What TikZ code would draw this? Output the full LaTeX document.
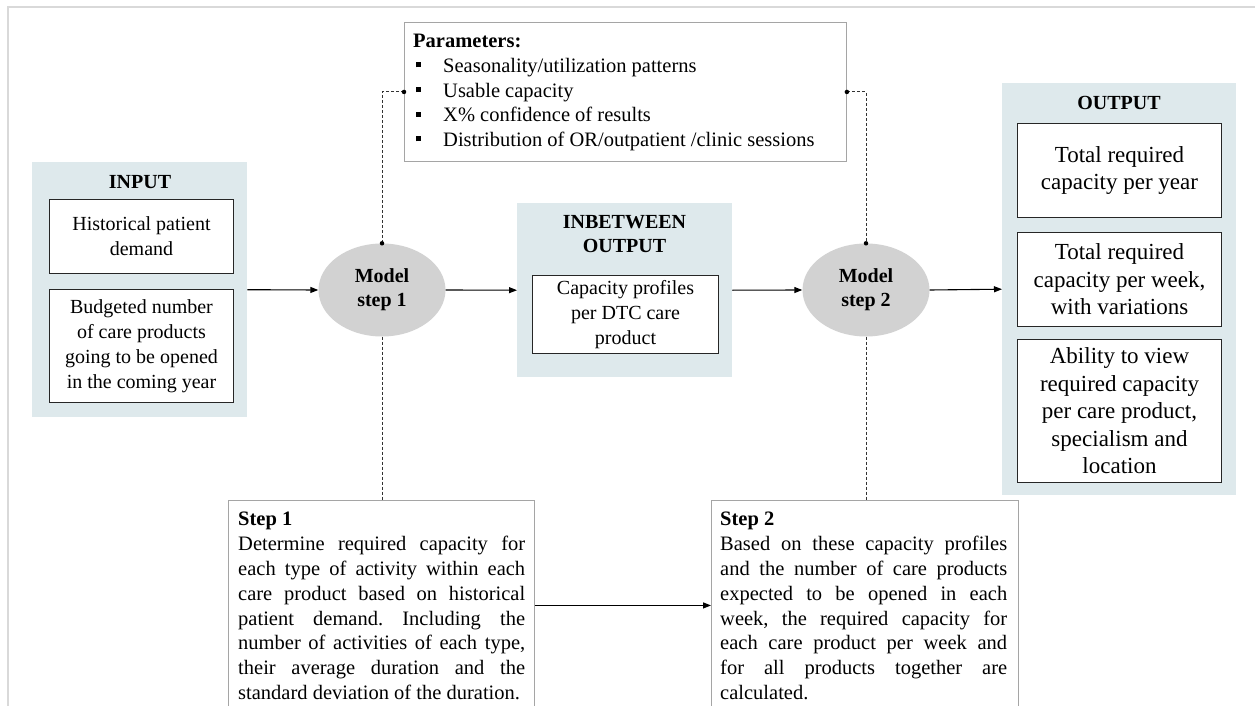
\documentclass[tikz,border=0pt]{standalone}
\usepackage{fontspec}
\setmainfont{Liberation Serif}
\usetikzlibrary{arrows.meta,shapes.geometric}

\definecolor{panelfill}{RGB}{222,233,236}
\definecolor{ovalfill}{RGB}{210,210,210}
\definecolor{framegrey}{RGB}{217,217,217}
\definecolor{boxgrey}{RGB}{165,165,165}
\definecolor{dashgrey}{RGB}{50,50,50}

% bullet square of the parameter list, with the gap up to the item text
\newcommand{\parbul}{\makebox[30pt][l]{\hspace{3pt}\rule[5pt]{5pt}{5pt}}}
% fixed height of the first line, so that its baseline is known
\newcommand{\firststrut}{\rule{0pt}{16pt}}
% one fully justified line of the step descriptions
\newcommand{\jline}[1]{\makebox[287pt][s]{#1}}

\frenchspacing
\begin{document}
\begin{tikzpicture}[x=1pt,y=-1pt,
  panel/.style={fill=panelfill, draw=none, inner sep=0pt, anchor=north west},
  whitebox/.style={draw=black!85, line width=1pt, fill=white, inner sep=0pt,
    align=center, anchor=north west, font=\fontsize{20}{25}\selectfont},
  outbox/.style={whitebox, font=\fontsize{23}{27.5}\selectfont},
  greybox/.style={draw=boxgrey, line width=0.9pt, fill=white, inner sep=0pt, anchor=north west},
  oval/.style={ellipse, fill=ovalfill, draw=none, minimum width=127pt, minimum height=93pt,
    inner sep=0pt, align=center, font=\bfseries\fontsize{20}{24}\selectfont},
  headline/.style={font=\bfseries\fontsize{20}{24}\selectfont, anchor=base, inner sep=0pt},
  bodytext/.style={anchor=north west, align=left, inner sep=0pt, font=\fontsize{20.5}{24.8}\selectfont},
  flow/.style={-{Triangle[length=8pt,width=6pt]}, line width=1.1pt, black},
  link/.style={dashgrey, line width=0.9pt, dash pattern=on 3pt off 2pt},
  joint/.style={circle, fill=black, inner sep=0pt, minimum size=4.5pt}
]
\useasboundingbox (0,0) rectangle (1255,706);
\clip (0,0) rectangle (1255,706);

% outer frame
\draw[framegrey, line width=1.8pt] (8,7) rectangle (1275,730);

% ---------- input ----------
\node[panel, minimum width=215pt, minimum height=255pt] (inpanel) at (32,162) {};
\node[headline] (intitle) at (140,188) {INPUT};
\node[whitebox, minimum width=184pt, minimum height=74pt] (hist) at (49,199)
  {Historical patient\\demand};
\node[whitebox, minimum width=184pt, minimum height=113pt] (budget) at (49,289)
  {Budgeted number\\of care products\\going to be opened\\in the coming year};

% ---------- in-between output ----------
\node[panel, minimum width=215pt, minimum height=174pt] (midpanel) at (517,203) {};
\node[headline, anchor=north, align=center] (midtitle) at (624.5,212)
  {\firststrut INBETWEEN\\OUTPUT};
\node[whitebox, minimum width=186pt, minimum height=78pt] (profiles) at (532,275)
  {Capacity profiles\\per DTC care\\product};

% ---------- output ----------
\node[panel, minimum width=234pt, minimum height=412pt] (outpanel) at (1002,83) {};
\node[headline] (outtitle) at (1119,110) {OUTPUT};
\node[outbox, minimum width=204pt, minimum height=94pt] (peryear) at (1017,123)
  {Total required\\capacity per year};
\node[outbox, minimum width=204pt, minimum height=94pt] (perweek) at (1017,232)
  {Total required\\capacity per week,\\with variations};
\node[outbox, minimum width=204pt, minimum height=143pt] (viewcap) at (1017,339)
  {Ability to view\\required capacity\\per care product,\\specialism and\\location};

% ---------- model steps ----------
\node[oval] (m1) at (382,290) {Model\\step 1};
\node[oval] (m2) at (866,290) {Model\\step 2};

% ---------- parameters ----------
\node[greybox, minimum width=442pt, minimum height=139pt] (params) at (404,22) {};
\node[bodytext, font=\fontsize{20.5}{24.6}\selectfont] (paramtext) at (413,31.7)
  {\firststrut\textbf{Parameters:}\\
   \parbul Seasonality/utilization patterns\\
   \parbul Usable capacity\\
   \parbul X\% confidence of results\\
   \parbul Distribution of OR/outpatient /clinic sessions};

% ---------- step descriptions ----------
\node[greybox, minimum width=306pt, minimum height=210pt] (s1box) at (228,500) {};
\node[bodytext] (s1text) at (238,509.7)
  {\firststrut\textbf{Step 1}\\
   \jline{Determine required capacity for}\\
   \jline{each type of activity within each}\\
   \jline{care product based on historical}\\
   \jline{patient demand. Including the}\\
   \jline{number of activities of each type,}\\
   \jline{their average duration and the}\\
   standard deviation of the duration.};

\node[greybox, minimum width=307pt, minimum height=210pt] (s2box) at (711,500) {};
\node[bodytext] (s2text) at (720,509.7)
  {\firststrut\textbf{Step 2}\\
   \jline{Based on these capacity profiles}\\
   \jline{and the number of care products}\\
   \jline{expected to be opened in each}\\
   \jline{week, the required capacity for}\\
   \jline{each care product per week and}\\
   \jline{for all products together are}\\
   calculated.};

% ---------- main flow ----------
\draw[flow] (inpanel.east) -- (m1.west);
\draw[flow] (m1.east) -- (midpanel.west);
\draw[flow] (midpanel.east) -- (m2.west);
\draw[flow] (m2.east) -- (outpanel.west);
\draw[flow] (s1box) -- (s2box);

% ---------- dashed links ----------
\draw[link] (params.west) -| (m1.north);
\draw[link] (params.east) -| (m2.north);
\draw[link] (m1.south) -- (m1.south |- s1box.north);
\draw[link] (m2.south) -- (m2.south |- s2box.north);
\node[joint] (jpl) at (params.west) {};
\node[joint] (jpr) at (params.east) {};
\node[joint] (jm1) at (m1.north) {};
\node[joint] (jm2) at (m2.north) {};
\end{tikzpicture}
\end{document}
